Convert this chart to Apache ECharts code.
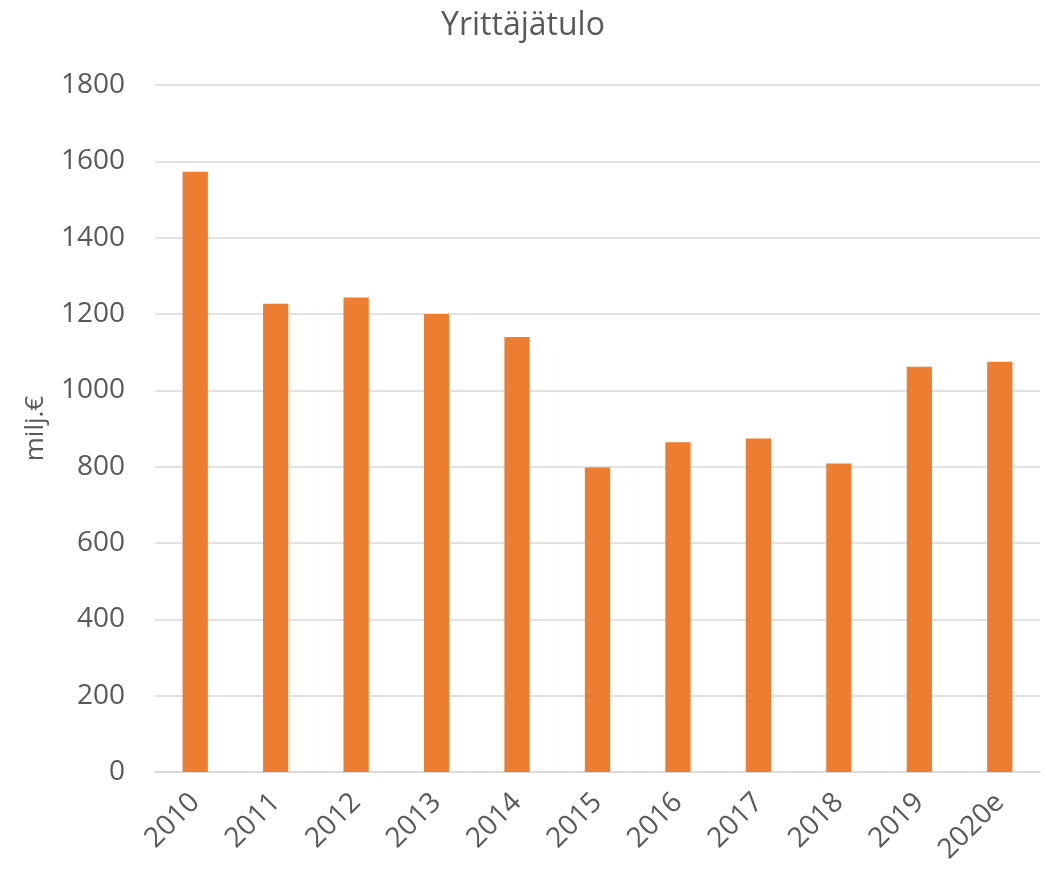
<!DOCTYPE html>
<html>
<head>
<meta charset="utf-8">
<script src="https://cdn.jsdelivr.net/npm/echarts@6/dist/echarts.min.js"></script>
<style>
  html, body { margin: 0; padding: 0; background: #fff; }
  #chart { width: 1046px; height: 869px; }
</style>
</head>
<body>
<div id="chart"></div>
<script>
const years = ['2010', '2011', '2012', '2013', '2014', '2015', '2016', '2017', '2018', '2019', '2020e']
const income = [1573, 1227, 1243, 1200, 1140, 798, 864, 874, 808, 1062, 1075]
const yMin = 0
const yMax = 1800
const yStep = 200

const chart = echarts.init(document.getElementById('chart'))
const font = '"Open Sans", "Liberation Sans", sans-serif'

chart.setOption({
  animation: false,
  textStyle: { fontFamily: font },
  title: {
    text: 'Yrittäjätulo',
    left: 'center',
    top: 5,
    textStyle: { fontFamily: font, fontSize: 32, fontWeight: 'normal', color: '#595959' }
  },
  grid: { left: 155, right: 6, top: 85, bottom: 97 },
  xAxis: {
    type: 'category',
    data: years,
    axisLine: { lineStyle: { color: '#d9d9d9', width: 1.5 } },
    axisTick: { show: false },
    axisLabel: {
      rotate: 45,
      interval: 0,
      margin: 26,
      fontSize: 28,
      color: '#595959',
      fontFamily: font
    }
  },
  yAxis: {
    type: 'value',
    min: yMin,
    max: yMax,
    interval: yStep,
    name: 'milj.€',
    nameLocation: 'middle',
    nameGap: 106,
    nameTextStyle: { fontSize: 26, color: '#595959', fontFamily: font },
    axisLine: { show: false },
    axisTick: { show: false },
    axisLabel: {
      fontSize: 28,
      color: '#595959',
      margin: 30,
      fontFamily: font,
      formatter: v => String(v)
    },
    splitLine: { lineStyle: { color: '#d9d9d9', width: 1.5 } }
  },
  series: [{
    type: 'bar',
    data: income,
    barWidth: '31.4%',
    itemStyle: { color: '#ED7D31' }
  }]
})
</script>
</body>
</html>
